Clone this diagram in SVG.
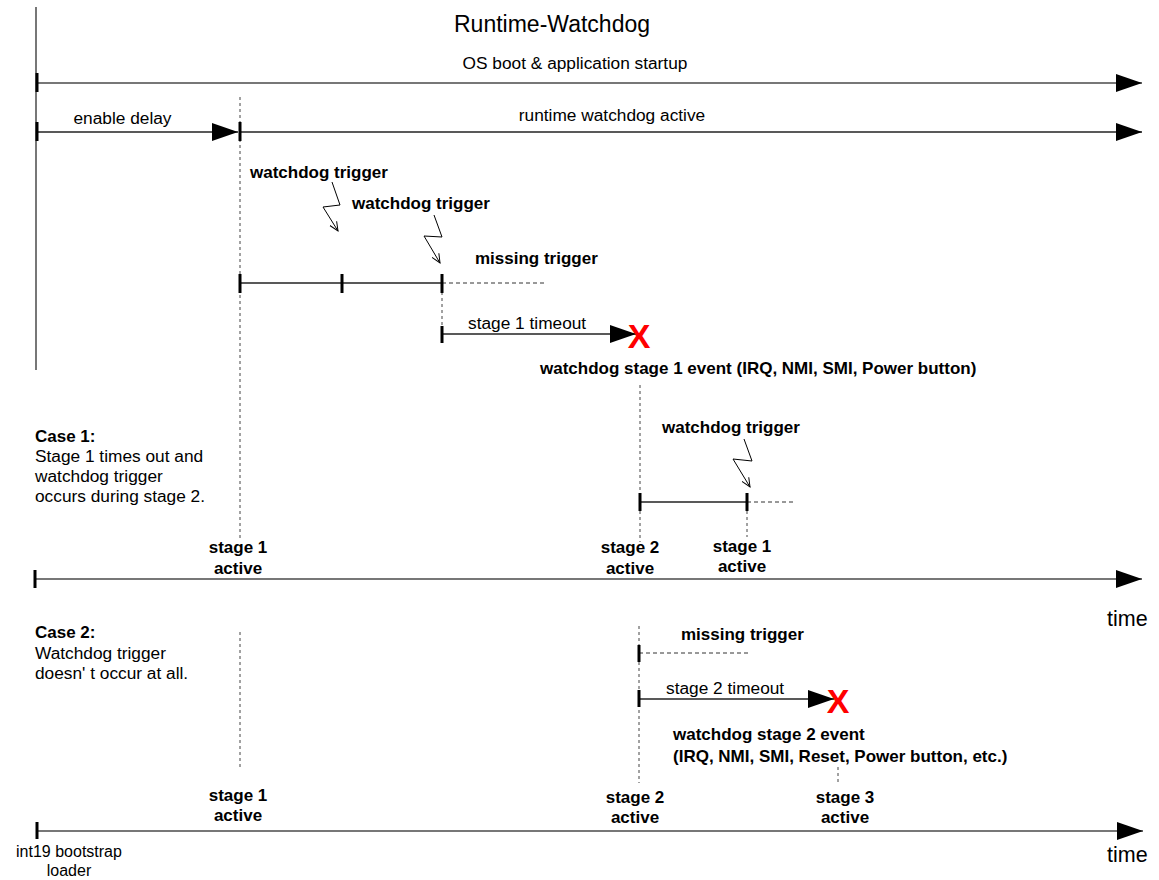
<svg xmlns="http://www.w3.org/2000/svg" width="1159" height="880" viewBox="0 0 1159 880">
<defs>
<marker id="ah" markerUnits="userSpaceOnUse" markerWidth="28" markerHeight="20" refX="26" refY="9" orient="auto"><path d="M0,0 L26,9 L0,18 Z" fill="#000"/></marker>
<marker id="bolt" markerUnits="userSpaceOnUse" markerWidth="12" markerHeight="12" refX="9" refY="5" orient="auto"><path d="M0,1 L9,5 L0,9" fill="none" stroke="#000" stroke-width="1"/></marker>
</defs>
<style>
text{font-family:"Liberation Sans",Arial,sans-serif;fill:#000}
.r{font-size:17.3px}
.s{font-size:16px}
.b{font-size:17px;font-weight:bold}
.t{font-size:23px}
.tm{font-size:21.5px}
.x{font-size:34px;font-weight:bold;fill:#f00}
.c{text-anchor:middle}
.axis{stroke:#777;stroke-width:2;fill:none}
.seg{stroke:#222;stroke-width:1.3;fill:none}
.tick{stroke:#000;stroke-width:3}
.dash{stroke:#333;stroke-width:1;stroke-dasharray:4,3;fill:none}
.vd{stroke:#444;stroke-width:1;stroke-dasharray:3,3;fill:none}
.lt{stroke:#000;stroke-width:1;fill:none}
</style>
<rect width="1159" height="880" fill="#fff"/>
<g id="connectors">
<line class="axis" x1="36" y1="7" x2="36" y2="370"/>
<line class="axis" x1="37" y1="83" x2="1142" y2="83" marker-end="url(#ah)"/>
<line class="seg" x1="37" y1="132" x2="238" y2="132" marker-end="url(#ah)"/>
<line class="seg" x1="240" y1="132" x2="1142" y2="132" marker-end="url(#ah)"/>
<line class="vd" x1="240" y1="97" x2="240" y2="540"/>
<line class="seg" x1="240" y1="283" x2="442" y2="283"/>
<line class="dash" x1="442" y1="283" x2="546" y2="283"/>
<line class="vd" x1="442" y1="292" x2="442" y2="326"/>
<line class="seg" x1="442" y1="334" x2="636" y2="334" marker-end="url(#ah)"/>
<line class="vd" x1="640" y1="385" x2="640" y2="542"/>
<line class="seg" x1="640" y1="502" x2="747" y2="502"/>
<line class="dash" x1="747" y1="502" x2="793" y2="502"/>
<line class="vd" x1="747" y1="511" x2="747" y2="537"/>
<line class="axis" x1="35" y1="579" x2="1142" y2="579" marker-end="url(#ah)"/>
<line class="vd" x1="240" y1="632" x2="240" y2="770"/>
<line class="vd" x1="639" y1="626" x2="639" y2="783"/>
<line class="dash" x1="639" y1="653" x2="749" y2="653"/>
<line class="seg" x1="639" y1="699" x2="834" y2="699" marker-end="url(#ah)"/>
<line class="vd" x1="838" y1="767" x2="838" y2="783"/>
<line class="axis" x1="37" y1="831" x2="1143" y2="831" marker-end="url(#ah)"/>
<path class="lt" d="M332,182 L340,205 L323,207 L338,231" marker-end="url(#bolt)"/>
<path class="lt" d="M434,215 L442,237 L424,236 L440,263" marker-end="url(#bolt)"/>
<path class="lt" d="M744,439 L752,461 L733,459 L750,487" marker-end="url(#bolt)"/>
</g>
<g id="ticks">
<line class="tick" x1="37" y1="73" x2="37" y2="92"/>
<line class="tick" x1="37" y1="122" x2="37" y2="141"/>
<line class="tick" x1="240" y1="122" x2="240" y2="141"/>
<line class="tick" x1="240" y1="274" x2="240" y2="293"/>
<line class="tick" x1="342" y1="274" x2="342" y2="293"/>
<line class="tick" x1="442" y1="274" x2="442" y2="293"/>
<line class="tick" x1="442" y1="326" x2="442" y2="343"/>
<line class="tick" x1="640" y1="493" x2="640" y2="511"/>
<line class="tick" x1="747" y1="493" x2="747" y2="511"/>
<line class="tick" x1="35" y1="570" x2="35" y2="588"/>
<line class="tick" x1="639" y1="645" x2="639" y2="662"/>
<line class="tick" x1="639" y1="690" x2="639" y2="707"/>
<line class="tick" x1="37" y1="822" x2="37" y2="839"/>
</g>
<g id="title"><text class="t" x="454" y="32">Runtime-Watchdog</text></g>
<g id="os-boot"><text class="r c" x="575" y="69">OS boot &amp; application startup</text></g>
<g id="enable-delay"><text class="r c" x="122.5" y="124">enable delay</text></g>
<g id="runtime-active"><text class="r c" x="612" y="121">runtime watchdog active</text></g>
<g id="trigger1"><text class="b" x="250" y="178">watchdog trigger</text></g>
<g id="trigger2"><text class="b" x="352" y="209">watchdog trigger</text></g>
<g id="missing1"><text class="b" x="475" y="264">missing trigger</text></g>
<g id="timeout1"><text class="r" x="468" y="329">stage 1 timeout</text><text class="x c" x="639" y="348">X</text></g>
<g id="event1"><text class="b" x="540" y="374">watchdog stage 1 event (IRQ, NMI, SMI, Power button)</text></g>
<g id="trigger3"><text class="b" x="662" y="433">watchdog trigger</text></g>
<g id="case1"><text class="b" x="35" y="442">Case 1:</text><text class="r" x="35" y="462">Stage 1 times out and</text><text class="r" x="35" y="482">watchdog trigger</text><text class="r" x="35" y="502">occurs during stage 2.</text></g>
<g id="c1-s1"><text class="b c" x="238" y="553">stage 1</text><text class="b c" x="238" y="574">active</text></g>
<g id="c1-s2"><text class="b c" x="630" y="553">stage 2</text><text class="b c" x="630" y="574">active</text></g>
<g id="c1-s1b"><text class="b c" x="742" y="552">stage 1</text><text class="b c" x="742" y="572">active</text></g>
<g id="time1"><text class="tm" x="1107" y="626">time</text></g>
<g id="case2"><text class="b" x="35" y="638">Case 2:</text><text class="r" x="35" y="659">Watchdog trigger</text><text class="r" x="35" y="679">doesn' t occur at all.</text></g>
<g id="missing2"><text class="b" x="681" y="640">missing trigger</text></g>
<g id="timeout2"><text class="r" x="666" y="694">stage 2 timeout</text><text class="x c" x="838" y="713">X</text></g>
<g id="event2"><text class="b" x="673" y="740">watchdog stage 2 event</text><text class="b" x="673" y="762">(IRQ, NMI, SMI, Reset, Power button, etc.)</text></g>
<g id="c2-s1"><text class="b c" x="238" y="801">stage 1</text><text class="b c" x="238" y="821">active</text></g>
<g id="c2-s2"><text class="b c" x="635" y="803">stage 2</text><text class="b c" x="635" y="823">active</text></g>
<g id="c2-s3"><text class="b c" x="845" y="803">stage 3</text><text class="b c" x="845" y="823">active</text></g>
<g id="time2"><text class="tm" x="1107" y="862">time</text></g>
<g id="int19"><text class="s c" x="69" y="857">int19 bootstrap</text><text class="s c" x="69" y="876">loader</text></g>
</svg>
